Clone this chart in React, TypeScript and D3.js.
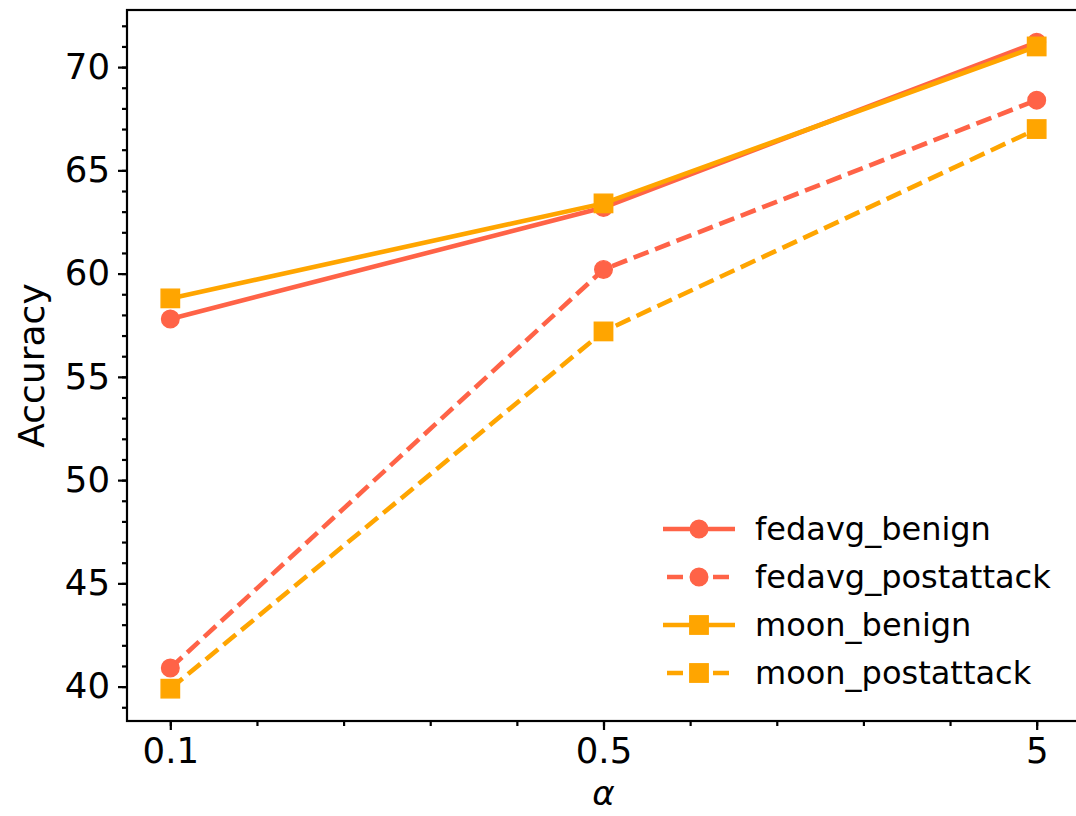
import React, { useEffect, useRef } from "react";
import * as d3 from "d3";

const alphas = ["0.1", "0.5", "5"];
const fedavgBenign = [57.8, 63.2, 71.2];
const fedavgPostattack = [40.9, 60.2, 68.4];
const moonBenign = [58.8, 63.4, 71.0];
const moonPostattack = [39.9, 57.2, 67.0];

const seriesNames = ["fedavg_benign", "fedavg_postattack", "moon_benign", "moon_postattack"];
const seriesValues = [fedavgBenign, fedavgPostattack, moonBenign, moonPostattack];
const seriesColors = ["#ff6347", "#ff6347", "#ffa500", "#ffa500"];
const seriesDashed = [false, true, false, true];
const seriesMarker = ["circle", "circle", "square", "square"];

const yTicks = [40, 45, 50, 55, 60, 65, 70];

const W = 1076, H = 816;
const left = 127, right = 1080, top = 10, bottom = 721;
const FONT = "DejaVu Sans, sans-serif";
const LW = 4.6;
const DASH = "16,7";

export default function App() {
  const ref = useRef<SVGSVGElement>(null);

  useEffect(() => {
    document.body.style.margin = "0";
    const svg = d3.select(ref.current);
    svg.selectAll("*").remove();

    const all = seriesValues.flat();
    const lo = d3.min(all) as number, hi = d3.max(all) as number;
    const pad = (hi - lo) * 0.05;
    const x = d3.scaleLinear().domain([-0.1, 2.1]).range([left, right]);
    const y = d3.scaleLinear().domain([lo - pad, hi + pad]).range([bottom, top]);

    // lines + markers
    const line = d3.line<number>().x((d, i) => x(i)).y(d => y(d));
    seriesValues.forEach((vals, s) => {
      svg.append("path")
        .attr("d", line(vals))
        .attr("fill", "none")
        .attr("stroke", seriesColors[s])
        .attr("stroke-width", LW)
        .attr("stroke-dasharray", seriesDashed[s] ? DASH : null);
      vals.forEach((v, i) => drawMarker(svg, seriesMarker[s], x(i), y(v), seriesColors[s]));
    });

    // spines
    svg.append("rect")
      .attr("x", left).attr("y", top)
      .attr("width", right - left).attr("height", bottom - top)
      .attr("fill", "none").attr("stroke", "#000").attr("stroke-width", 2.2);

    // x axis
    const xMinor = svg.append("g").attr("transform", `translate(0,${bottom})`)
      .call(d3.axisBottom(x).tickValues(d3.range(0, 2.01, 0.2)).tickSize(5).tickFormat(() => ""));
    xMinor.select(".domain").remove();
    const xMajor = svg.append("g").attr("transform", `translate(0,${bottom})`)
      .call(d3.axisBottom(x).tickValues([0, 1, 2]).tickSize(9).tickPadding(8)
        .tickFormat((d) => alphas[d as number]));
    xMajor.select(".domain").remove();

    // y axis
    const yMinor = svg.append("g").attr("transform", `translate(${left},0)`)
      .call(d3.axisLeft(y).tickValues(d3.range(39, 73, 1)).tickSize(5).tickFormat(() => ""));
    yMinor.select(".domain").remove();
    const yMajor = svg.append("g").attr("transform", `translate(${left},0)`)
      .call(d3.axisLeft(y).tickValues(yTicks).tickSize(9).tickPadding(8));
    yMajor.select(".domain").remove();

    svg.selectAll(".tick line").attr("stroke", "#000").attr("stroke-width", 2.2);
    svg.selectAll(".tick text").attr("font-family", FONT).attr("font-size", 35.5).attr("fill", "#000");

    // axis labels
    svg.append("text")
      .attr("transform", `translate(44,${(top + bottom) / 2}) rotate(-90)`)
      .attr("text-anchor", "middle")
      .attr("font-family", FONT).attr("font-size", 36)
      .text("Accuracy");
    svg.append("text")
      .attr("x", x(1)).attr("y", 805)
      .attr("text-anchor", "middle")
      .attr("font-family", FONT).attr("font-size", 34).attr("font-style", "italic")
      .text("α");

    // legend
    const lg = svg.append("g").attr("transform", "translate(663,529)");
    seriesNames.forEach((name, s) => {
      const row = lg.append("g").attr("transform", `translate(0,${s * 48})`);
      row.append("line")
        .attr("x1", 0).attr("x2", 72).attr("y1", 0).attr("y2", 0)
        .attr("stroke", seriesColors[s]).attr("stroke-width", LW)
        .attr("stroke-dasharray", seriesDashed[s] ? DASH : null)
        .attr("stroke-dashoffset", seriesDashed[s] ? -4 : null);
      drawMarker(row, seriesMarker[s], 36, 0, seriesColors[s]);
      row.append("text")
        .attr("x", 92).attr("y", 0).attr("dy", "0.35em")
        .attr("font-family", FONT).attr("font-size", 32)
        .text(name);
    });
  }, []);

  return <svg ref={ref} width={W} height={H} style={{ display: "block", background: "#fff" }} />;
}

function drawMarker(g: any, kind: string, cx: number, cy: number, color: string) {
  if (kind === "circle") {
    g.append("circle").attr("cx", cx).attr("cy", cy).attr("r", 8.8)
      .attr("fill", color).attr("stroke", color).attr("stroke-width", 1.4);
  } else {
    g.append("rect").attr("x", cx - 9.2).attr("y", cy - 9.2)
      .attr("width", 18.4).attr("height", 18.4)
      .attr("fill", color).attr("stroke", color).attr("stroke-width", 1.4);
  }
}
